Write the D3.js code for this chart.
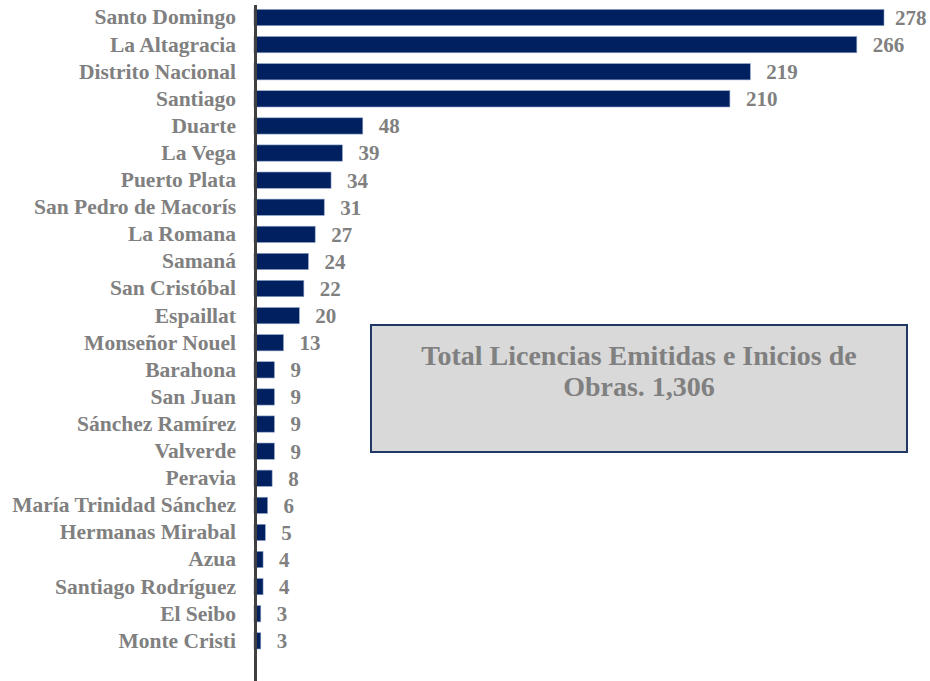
<!DOCTYPE html>
<html>
<head>
<meta charset="utf-8">
<script src="https://cdn.jsdelivr.net/npm/d3@7"></script>
<style>
  body { margin: 0; background: #fff; }
  svg text { font-family: "Liberation Serif", "Times New Roman", serif; font-weight: bold; fill: #808080; }
</style>
</head>
<body>
<div id="chart"></div>
<script>
var provinces = ["Santo Domingo", "La Altagracia", "Distrito Nacional", "Santiago", "Duarte",
  "La Vega", "Puerto Plata", "San Pedro de Macorís", "La Romana", "Samaná", "San Cristóbal",
  "Espaillat", "Monseñor Nouel", "Barahona", "San Juan", "Sánchez Ramírez", "Valverde",
  "Peravia", "María Trinidad Sánchez", "Hermanas Mirabal", "Azua", "Santiago Rodríguez",
  "El Seibo", "Monte Cristi"];
var licencias = [278, 266, 219, 210, 48, 39, 34, 31, 27, 24, 22, 20, 13, 9, 9, 9, 9, 8, 6, 5, 4, 4, 3, 3];
var totalLines = ["Total Licencias Emitidas e Inicios de", "Obras. 1,306"];

var width = 930, height = 681;
var margin = {top: 4, right: 46, bottom: 0, left: 254};

var data = provinces.map(function(p, i) { return {name: p, value: licencias[i]}; });

var svg = d3.select("#chart").append("svg")
  .attr("width", width)
  .attr("height", height);

var xScale = d3.scaleLinear()
  .domain([0, 278])
  .range([margin.left, 884]);

var yScale = d3.scaleBand()
  .domain(provinces)
  .range([margin.top, margin.top + 27.1 * provinces.length])
  .paddingInner(0.4)
  .paddingOuter(0.2);

// bars
svg.selectAll(".bar")
  .data(data)
  .enter().append("rect")
    .attr("class", "bar")
    .attr("x", xScale(0))
    .attr("y", function(d) { return yScale(d.name); })
    .attr("width", function(d) { return xScale(d.value) - xScale(0); })
    .attr("height", yScale.bandwidth())
    .attr("fill", "#002060")
    .attr("stroke", "#8ea3c8")
    .attr("stroke-width", 0.6);

// value labels (excel squeezes the last one against the edge)
svg.selectAll(".val")
  .data(data)
  .enter().append("text")
    .attr("class", "val")
    .attr("x", function(d) { return Math.min(xScale(d.value) + 16, 895); })
    .attr("y", function(d) { return yScale(d.name) + yScale.bandwidth() / 2; })
    .attr("dy", "0.35em")
    .attr("font-size", "21px")
    .text(function(d) { return d.value; });

// category axis
var yAxis = d3.axisLeft(yScale).tickSize(0).tickPadding(19);
var yAxisG = svg.append("g")
  .attr("transform", "translate(" + (margin.left + 1) + ",0)")
  .call(yAxis);
yAxisG.select(".domain").remove();
yAxisG.selectAll("text")
  .attr("font-size", "21.5px")
  .attr("fill", "#808080");

svg.append("line")
  .attr("x1", margin.left + 1.5).attr("x2", margin.left + 1.5)
  .attr("y1", 5).attr("y2", height)
  .attr("stroke", "#404040")
  .attr("stroke-width", 3);

// total box
var box = svg.append("g").attr("transform", "translate(371,325)");
box.append("rect")
  .attr("width", 536).attr("height", 127)
  .attr("fill", "#d9d9d9")
  .attr("stroke", "#1f3864")
  .attr("stroke-width", 2);
box.selectAll(".tot")
  .data(totalLines)
  .enter().append("text")
    .attr("class", "tot")
    .attr("x", 268)
    .attr("y", function(d, i) { return 40 + i * 31; })
    .attr("text-anchor", "middle")
    .attr("font-size", "28px")
    .text(function(d) { return d; });
</script>
</body>
</html>
